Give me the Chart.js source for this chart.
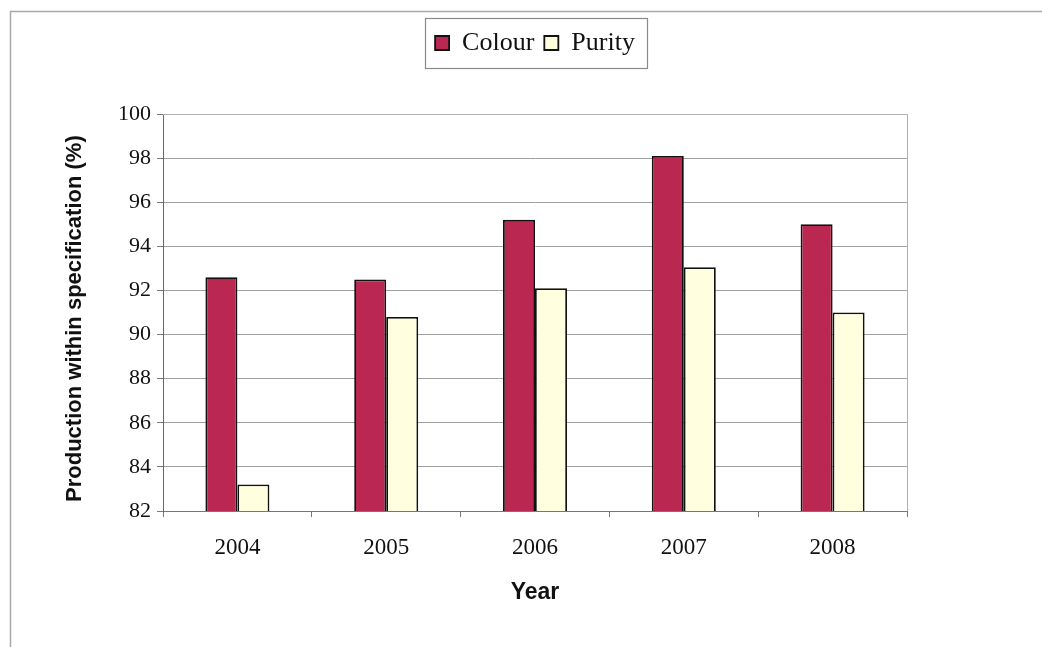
<!DOCTYPE html>
<html>
<head>
<meta charset="utf-8">
<script src="https://cdn.jsdelivr.net/npm/chart.js@4/dist/chart.umd.min.js"></script>
<style>
  html, body { margin: 0; padding: 0; background: #fff; }
  #wrap { width: 1042px; height: 647px; position: relative; }
</style>
</head>
<body>
<div id="wrap"><canvas id="c" width="1042" height="647"></canvas></div>
<script>
// Share of production within specification, per year
const years = ['2004', '2005', '2006', '2007', '2008'];
const colourValues = [92.6, 92.5, 95.2, 98.1, 95.0];
const purityValues = [83.2, 90.8, 92.1, 93.05, 91.0];
const yTicks = [82, 84, 86, 88, 90, 92, 94, 96, 98, 100];

const serif = '"Liberation Serif", "Times New Roman", serif';
const sans = '"Liberation Sans", Arial, sans-serif';

// Outer frame lines, plot-area border and a box around the legend items
const framePlugin = {
  id: 'frames',
  beforeDraw(chart) {
    const ctx = chart.ctx;
    ctx.save();
    ctx.fillStyle = '#fff';
    ctx.fillRect(0, 0, chart.width, chart.height);
    ctx.strokeStyle = '#a8a8a8';
    ctx.lineWidth = 1.5;
    ctx.beginPath();
    ctx.moveTo(10.5, chart.height);
    ctx.lineTo(10.5, 11.5);
    ctx.lineTo(chart.width, 11.5);
    ctx.stroke();
    ctx.restore();
  },
  afterDraw(chart) {
    const ctx = chart.ctx;
    const a = chart.chartArea;
    ctx.save();
    ctx.strokeStyle = '#b0b0b0';
    ctx.lineWidth = 1;
    ctx.beginPath();
    ctx.moveTo(a.left, a.top + 0.5);
    ctx.lineTo(a.right + 0.5, a.top + 0.5);
    ctx.lineTo(a.right + 0.5, a.bottom);
    ctx.stroke();

    const boxes = chart.legend.legendHitBoxes;
    if (boxes && boxes.length) {
      const first = boxes[0];
      const last = boxes[boxes.length - 1];
      const cy = first.top + first.height / 2;
      const left = Math.round(first.left - 10) + 0.5;
      const right = Math.round(last.left + last.width + 12) + 0.5;
      ctx.strokeStyle = '#8a8a8a';
      ctx.lineWidth = 1.2;
      ctx.strokeRect(left, Math.round(cy - 25) + 0.5, right - left, 50);
    }
    ctx.restore();
  }
};

new Chart(document.getElementById('c'), {
  type: 'bar',
  data: {
    labels: years,
    datasets: [
      {
        label: 'Colour',
        data: colourValues,
        backgroundColor: '#BA2851',
        borderColor: '#111',
        borderWidth: 1.8,
        borderSkipped: false
      },
      {
        label: 'Purity',
        data: purityValues,
        backgroundColor: '#FFFFE0',
        borderColor: '#111',
        borderWidth: 1.8,
        borderSkipped: false
      }
    ]
  },
  options: {
    responsive: false,
    animation: false,
    layout: { padding: { left: 0, right: 135, top: 20, bottom: 28 } },
    datasets: {
      bar: { barPercentage: 1.0, categoryPercentage: 0.43 }
    },
    plugins: {
      legend: {
        display: true,
        position: 'top',
        fullSize: false,
        labels: {
          font: { family: serif, size: 26 },
          color: '#111',
          boxWidth: 14,
          boxHeight: 14,
          padding: 10
        },
        onClick: null
      },
      subtitle: {
        display: true,
        text: ' ',
        position: 'top',
        weight: 500,
        fullSize: false,
        font: { size: 10 },
        padding: { top: 0, bottom: 36 }
      },
      tooltip: { enabled: false }
    },
    scales: {
      x: {
        grid: {
          display: true,
          drawOnChartArea: false,
          drawTicks: true,
          tickLength: 6,
          color: '#777',
          offset: true
        },
        border: { display: true, color: '#777', width: 1 },
        ticks: {
          font: { family: serif, size: 23 },
          color: '#111',
          padding: 17
        },
        title: {
          display: true,
          text: 'Year',
          font: { family: sans, size: 23, weight: 'bold' },
          color: '#111',
          padding: { top: 0, bottom: 13 }
        },
        afterFit(scale) { scale.height = 108; }
      },
      y: {
        min: 82,
        max: 100,
        afterBuildTicks(scale) { scale.ticks = yTicks.map(v => ({ value: v })); },
        grid: {
          color: '#a0a0a0',
          lineWidth: 1,
          drawTicks: true,
          tickLength: 6,
          tickColor: '#777'
        },
        border: { display: true, color: '#666', width: 1 },
        ticks: {
          font: { family: serif, size: 22 },
          color: '#111',
          padding: 6
        },
        title: {
          display: true,
          text: 'Production within specification (%)  ',
          font: { family: sans, size: 22, weight: 'bold' },
          color: '#111',
          padding: { top: 62, bottom: 0 }
        },
        afterFit(scale) { scale.width = 163; }
      }
    }
  },
  plugins: [framePlugin]
});
</script>
</body>
</html>
